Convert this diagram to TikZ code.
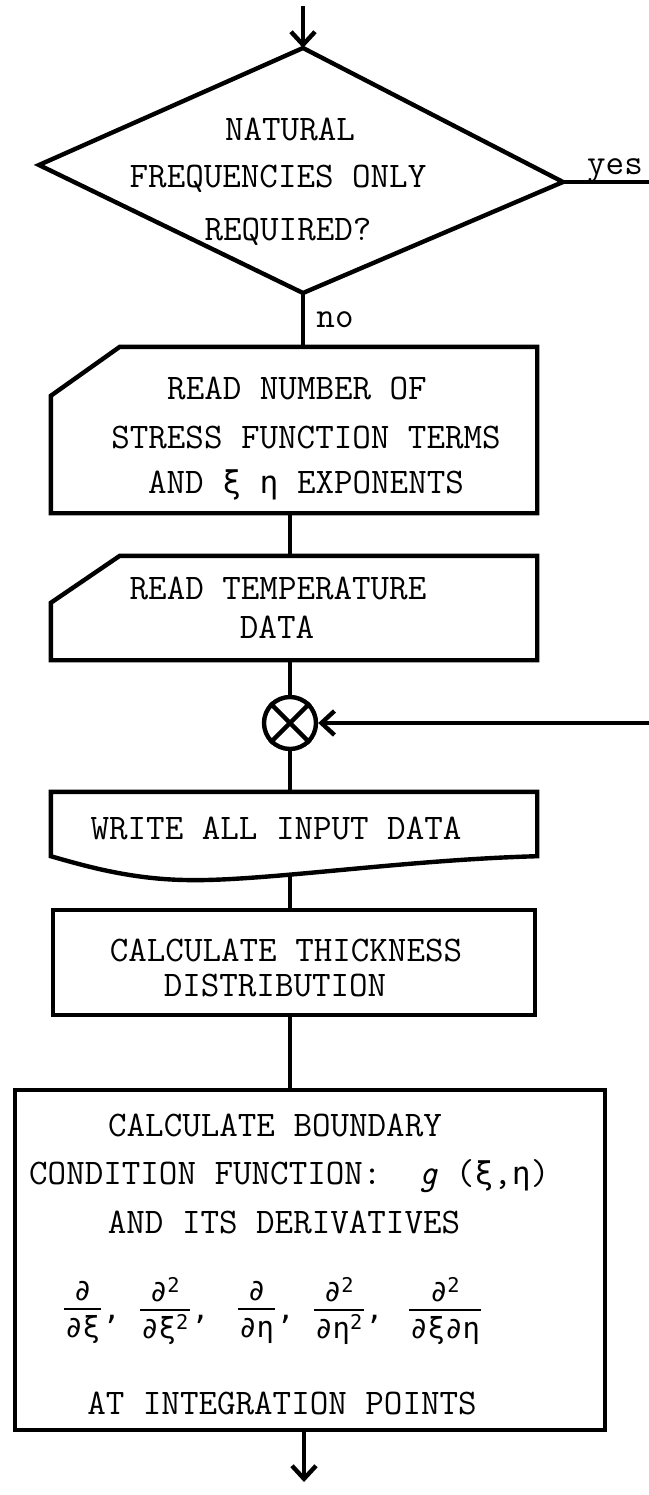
\documentclass[tikz,border=0pt]{standalone}
\usepackage{fontspec}
\usetikzlibrary{arrows.meta}
\newfontfamily\gr[Scale=0.87]{DejaVu Sans Mono}
\newfontfamily\grf{DejaVu Sans Mono}
\setlength{\arrayrulewidth}{2pt}
\newcommand\dfr[2]{\begin{tabular}[c]{@{\hspace{1pt}}c@{\hspace{1pt}}}#1\\[-2pt]\hline\rule{0pt}{0.95em}#2\end{tabular}}
\begin{document}
\begin{tikzpicture}[x=1pt,y=-1pt,line width=4.4pt,
  >={Straight Barb[length=13pt,width=24pt]},
  txt/.style={font=\ttfamily\fontsize{36}{40}\selectfont,anchor=base,inner sep=0pt},
  frs/.style={font=\grf\fontsize{29}{32}\selectfont,anchor=west,inner sep=0pt},
  boxnode/.style={rectangle,inner sep=0pt,minimum width=482pt}]
\useasboundingbox (0,0) rectangle (648,1495);

% decision
\coordinate (dT) at (303,48);
\coordinate (dL) at (39,165);
\coordinate (dR) at (563,182);
\coordinate (dB) at (303,293);
\draw (dT) -- (dR) -- (dB) -- (dL) -- cycle;
\node[txt] (q1) at (290,141) {NATURAL};
\node[txt] (q2) at (278,188) {FREQUENCIES ONLY};
\node[txt] (q3) at (288,241) {REQUIRED?};

% boxes
\node[boxnode,minimum height=162pt] (b1) at (294,430) {};
\draw ([yshift=-49pt]b1.north west) -- ([xshift=69pt]b1.north west) -- (b1.north east) -- (b1.south east) -- (b1.south west) -- cycle;
\node[txt] (t11) at (297,399) {READ NUMBER OF};
\node[txt] (t12) at (306,448) {STRESS FUNCTION TERMS};
\node[txt] (t13) at (306,493) {AND {\gr ξ} {\gr η} EXPONENTS};

\node[boxnode,minimum height=100pt] (b2) at (294,608) {};
\draw ([yshift=-47pt]b2.north west) -- ([xshift=69pt]b2.north west) -- (b2.north east) -- (b2.south east) -- (b2.south west) -- cycle;
\node[txt] (t21) at (278,599) {READ TEMPERATURE};
\node[txt] (t22) at (277,638) {DATA};

\node[circle,draw,minimum size=52pt,inner sep=0pt] (c) at (290,723) {};
\draw (c.north west) -- (c.south east) (c.north east) -- (c.south west);

\node[boxnode,minimum height=60pt] (w) at (294,824) {};
\draw (w.south east) .. controls (400,860) and (260,882) .. (185,880) .. controls (130,879) and (85,866) .. (w.south west) -- (w.north west) -- (w.north east) -- cycle;
\node[txt] (tw) at (276,839) {WRITE ALL INPUT DATA};
\coordinate (wb) at (290,873);

\node[boxnode,draw,minimum height=105pt] (th) at (294,962.5) {};
\node[txt] (tt1) at (286,961) {CALCULATE THICKNESS};
\node[txt] (tt2) at (275,996) {DISTRIBUTION};

\node[rectangle,draw,inner sep=0pt,minimum width=590pt,minimum height=340pt] (bb) at (310,1260) {};
\node[txt] (tb1) at (275,1136) {CALCULATE BOUNDARY};
\node[txt,anchor=base west] (tb2) at (27,1184) {CONDITION FUNCTION:~~{\itshape g} ({\gr ξ},{\gr η})};
\node[txt] (tb3) at (284,1233) {AND ITS DERIVATIVES};
\node[frs] (f1) at (62,1313) {\dfr{∂}{∂ξ}\hspace{2pt},};
\node[frs] (f2) at (138,1313) {\dfr{∂\textsuperscript{2}}{∂ξ\textsuperscript{2}}\hspace{2pt},};
\node[frs] (f3) at (236,1313) {\dfr{∂}{∂η}\hspace{2pt},};
\node[frs] (f4) at (312,1313) {\dfr{∂\textsuperscript{2}}{∂η\textsuperscript{2}}\hspace{2pt},};
\node[frs] (f5) at (407,1313) {\dfr{∂\textsuperscript{2}}{∂ξ∂η}};
\node[txt] (tb4) at (282,1414) {AT INTEGRATION POINTS};

% labels
\node[txt] (yes) at (615,175) {yes};
\node[txt] (no) at (335,327) {no};

% connectors
\coordinate (in) at (303,6);
\draw[->] (in) -- (dT);
\coordinate (yesend) at (650,182);
\draw (dR) -- (yesend);
\draw (dB) -- (dB |- b1.north);
\draw (c.north |- b1.south) -- (c.north |- b2.north);
\draw (c.north |- b2.south) -- (c.north);
\coordinate (ret) at (650,723);
\draw[->] (ret) -- (c.east);
\draw (c.south) -- (c.south |- w.north);
\draw (wb) -- (wb |- th.north);
\draw (c.south |- th.south) -- (c.south |- bb.north);
\coordinate (out) at (304,1482);
\draw[->] (out |- bb.south) -- (out);
\end{tikzpicture}
\end{document}
